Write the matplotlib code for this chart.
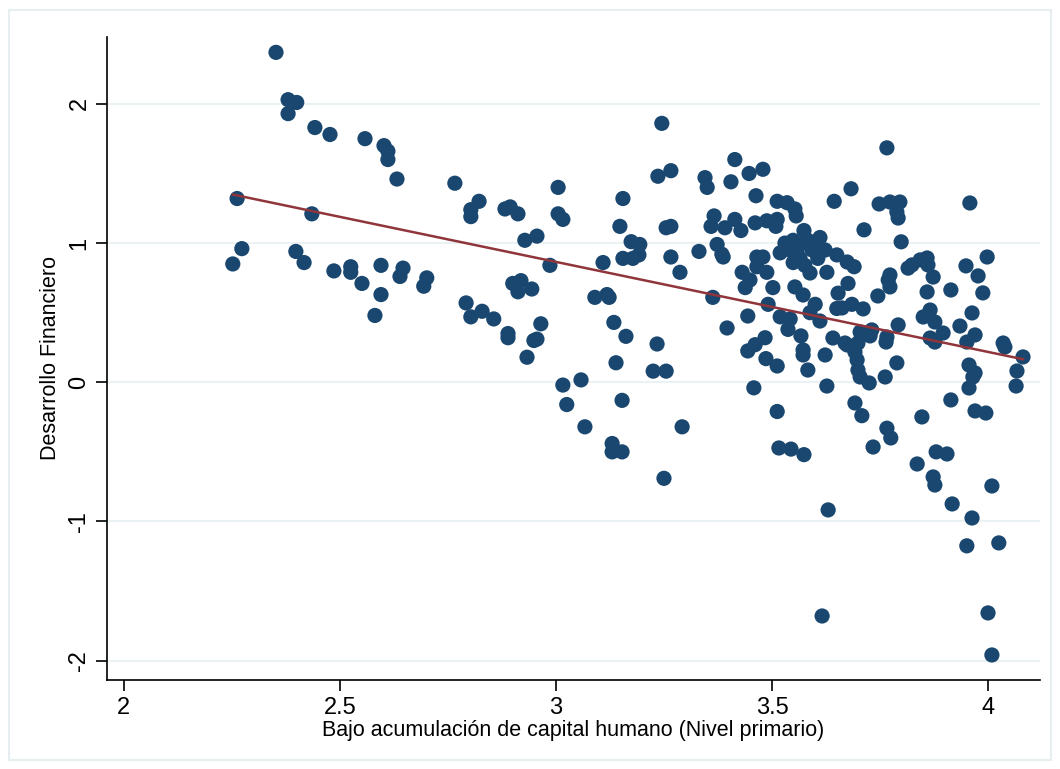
import numpy as np
import matplotlib.pyplot as plt
from matplotlib.patches import Rectangle

plt.rcParams['font.family'] = ['Liberation Sans', 'DejaVu Sans']

# values
x_left = [2.252, 2.262, 2.273, 2.352, 2.380, 2.400, 2.380, 2.442, 2.477, 2.558,
          2.602, 2.611, 2.611, 2.632, 2.766, 2.435, 2.398, 2.417, 2.486, 2.525,
          2.525, 2.551, 2.595, 2.595, 2.581, 2.646, 2.639, 2.701, 2.694]
y_left = [0.85, 1.32, 0.96, 2.37, 2.03, 2.01, 1.93, 1.83, 1.78, 1.75,
          1.70, 1.66, 1.60, 1.46, 1.43, 1.21, 0.94, 0.86, 0.80, 0.83,
          0.79, 0.71, 0.84, 0.63, 0.48, 0.82, 0.76, 0.75, 0.69]

x_mid = [3.245, 3.266, 3.236, 2.822, 2.803, 2.803, 2.894, 2.882, 2.912, 3.005,
         3.005, 3.016, 3.155, 3.148, 3.255, 3.266, 2.928, 2.956, 3.174, 3.194,
         3.155, 3.178, 3.192, 2.986, 3.109, 3.266, 3.287, 2.900, 2.919, 2.912,
         2.944, 3.090, 3.118, 3.123, 2.792, 2.803, 2.829, 2.856, 2.889, 2.889,
         2.965, 2.949, 2.956, 3.134, 3.162, 3.234, 2.933, 3.139, 3.225, 3.255,
         3.016, 3.058, 3.025, 3.153, 3.067, 3.130, 3.130, 3.153, 3.292, 3.250]
y_mid = [1.86, 1.52, 1.48, 1.30, 1.24, 1.19, 1.26, 1.245, 1.21, 1.40,
         1.21, 1.17, 1.32, 1.12, 1.11, 1.12, 1.02, 1.05, 1.01, 0.99,
         0.89, 0.89, 0.915, 0.84, 0.86, 0.90, 0.79, 0.71, 0.73, 0.65,
         0.67, 0.61, 0.63, 0.61, 0.57, 0.47, 0.51, 0.455, 0.35, 0.32,
         0.42, 0.30, 0.31, 0.43, 0.33, 0.275, 0.18, 0.14, 0.08, 0.08,
         -0.02, 0.017, -0.16, -0.13, -0.32, -0.44, -0.50, -0.50, -0.32, -0.69]

x_mr = [3.414, 3.447, 3.479, 3.345, 3.350, 3.405, 3.463, 3.512, 3.535, 3.553,
        3.556, 3.644, 3.683, 3.366, 3.359, 3.391, 3.414, 3.428, 3.461, 3.488,
        3.512, 3.509, 3.331, 3.373, 3.384, 3.387, 3.465, 3.479, 3.431, 3.488,
        3.465, 3.449, 3.438, 3.530, 3.549, 3.574, 3.611, 3.542, 3.565, 3.583,
        3.593, 3.565, 3.549, 3.600, 3.606, 3.576, 3.519, 3.558, 3.623, 3.588,
        3.627, 3.650, 3.674, 3.690, 3.553, 3.572, 3.502, 3.653, 3.676, 3.363,
        3.600, 3.588, 3.611, 3.650, 3.685, 3.444, 3.491, 3.519, 3.542, 3.537,
        3.396, 3.484, 3.461, 3.444, 3.486, 3.512, 3.567, 3.572, 3.572, 3.583,
        3.623, 3.641, 3.674, 3.692, 3.697, 3.699, 3.704, 3.458, 3.627, 3.692,
        3.512, 3.516, 3.544, 3.574, 3.630, 3.616]
y_mr = [1.60, 1.50, 1.53, 1.47, 1.40, 1.44, 1.34, 1.30, 1.29, 1.245,
        1.195, 1.30, 1.39, 1.195, 1.12, 1.11, 1.17, 1.09, 1.145, 1.16,
        1.17, 1.12, 0.94, 0.99, 0.92, 0.90, 0.90, 0.90, 0.79, 0.79,
        0.83, 0.735, 0.68, 1.00, 1.02, 1.09, 1.04, 0.95, 0.99, 1.02,
        0.95, 0.89, 0.86, 0.99, 0.89, 0.84, 0.93, 0.93, 0.95, 0.785,
        0.79, 0.915, 0.864, 0.83, 0.685, 0.627, 0.68, 0.64, 0.71, 0.61,
        0.56, 0.50, 0.44, 0.53, 0.56, 0.476, 0.56, 0.47, 0.455, 0.38,
        0.39, 0.32, 0.27, 0.225, 0.17, 0.117, 0.333, 0.232, 0.196, 0.088,
        0.196, 0.318, 0.268, 0.217, 0.16, 0.088, 0.038, -0.04, -0.027, -0.149,
        -0.21, -0.472, -0.48, -0.52, -0.917, -1.679]

x_right = [3.766, 3.748, 3.773, 3.796, 3.789, 3.792, 3.958, 3.713, 3.799, 3.815,
           3.824, 3.843, 3.859, 3.861, 3.873, 3.773, 3.769, 3.773, 3.949, 3.998,
           3.977, 3.859, 3.914, 3.988, 3.745, 3.662, 3.711, 3.866, 3.850, 3.877,
           3.963, 3.935, 3.792, 3.704, 3.731, 3.727, 3.766, 3.764, 3.896, 3.970,
           3.951, 3.866, 3.877, 4.035, 4.039, 4.081, 3.669, 3.699, 3.725, 3.789,
           3.762, 3.956, 3.970, 3.965, 4.067, 3.956, 4.065, 3.914, 3.708, 3.847,
           3.970, 3.995, 3.766, 3.775, 3.734, 3.880, 3.905, 3.836, 3.873, 3.877,
           4.009, 3.917, 3.963, 3.951, 4.025, 4.000, 4.009]
y_right = [1.684, 1.281, 1.295, 1.295, 1.224, 1.180, 1.288, 1.095, 1.009, 0.82,
           0.843, 0.879, 0.893, 0.843, 0.756, 0.771, 0.735, 0.685, 0.836, 0.90,
           0.764, 0.649, 0.663, 0.642, 0.62, 0.534, 0.527, 0.519, 0.469, 0.433,
           0.498, 0.404, 0.412, 0.361, 0.376, 0.333, 0.325, 0.289, 0.354, 0.34,
           0.289, 0.318, 0.289, 0.282, 0.253, 0.182, 0.282, 0.282, -0.005, 0.139,
           0.038, 0.124, 0.067, 0.038, 0.081, -0.041, -0.027, -0.127, -0.24, -0.249,
           -0.206, -0.221, -0.33, -0.40, -0.465, -0.50, -0.515, -0.587, -0.68, -0.738,
           -0.745, -0.874, -0.975, -1.175, -1.154, -1.657, -1.959]

x = np.array(x_left + x_mid + x_mr + x_right)
y = np.array(y_left + y_mid + y_mr + y_right)

# linear fit like stata lfit
b, a = np.polyfit(x, y, 1)
xf = np.array([x.min(), x.max()])

fig = plt.figure(figsize=(10.6, 7.69), dpi=100)
ax = fig.add_axes([0.101, 0.1157, 0.880, 0.8363])

fig.patches.append(Rectangle((0.0085, 0.012), 0.983, 0.975, transform=fig.transFigure,
                             fill=False, edgecolor='#e6eef0', linewidth=1.5))

ax.scatter(x, y, s=120, color='#1a476f', edgecolors='none', zorder=3)
ax.plot(xf, a + b * xf, color='#90353b', linewidth=1.8, zorder=4)

ax.set_xlim(1.961, 4.12)
ax.set_ylim(-2.139, 2.481)
ax.set_xticks([2, 2.5, 3, 3.5, 4])
ax.set_xticklabels(['2', '2.5', '3', '3.5', '4'])
ax.set_yticks([-2, -1, 0, 1, 2])
ax.set_yticklabels(['-2', '-1', '0', '1', '2'], rotation=90, va='center')

ax.grid(axis='y', color='#eaf2f3', linewidth=1.5)
ax.set_axisbelow(True)
for s in ['top', 'right']:
    ax.spines[s].set_visible(False)
for s in ['left', 'bottom']:
    ax.spines[s].set_linewidth(1.2)
ax.tick_params(axis='both', labelsize=17, length=8, width=1.2, pad=4)

ax.set_xlabel('Bajo acumulación de capital humano (Nivel primario)', fontsize=15.5, labelpad=1)
ax.set_ylabel('Desarrollo Financiero', fontsize=15.5, labelpad=5)

fig.savefig('out.png', dpi=100)
